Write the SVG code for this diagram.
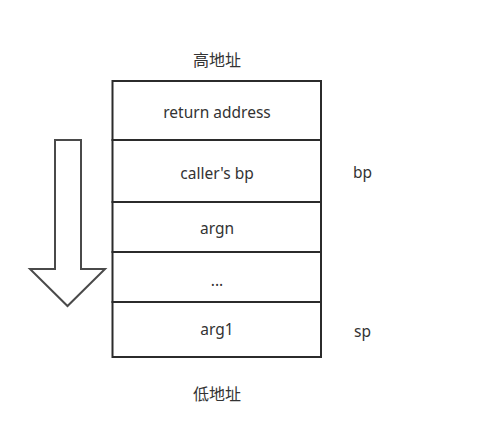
<svg xmlns="http://www.w3.org/2000/svg" width="495" height="448" viewBox="0 0 495 448">
  <style>
    .cell { fill: #ffffff; stroke: #2b2b2b; stroke-width: 2; }
    .lbl { font-family: "Noto Sans", "Noto Sans CJK SC", sans-serif; font-size: 15.5px; fill: #333333; text-anchor: middle; dominant-baseline: central; }
    .cjk { font-family: "Noto Sans CJK SC", sans-serif; font-size: 16px; }
    .side { text-anchor: start; }
    .arrow { fill: #ffffff; stroke: #4a4a4a; stroke-width: 2; stroke-linejoin: miter; }
  </style>
  <rect width="495" height="448" fill="#ffffff"/>

  <g id="label-high"><text class="lbl cjk" x="217" y="59">高地址</text></g>

  <g id="stack">
    <g id="cell-return"><rect class="cell" x="112.5" y="81" width="208.5" height="59"/><text class="lbl" x="217" y="112">return address</text></g>
    <g id="cell-bp"><rect class="cell" x="112.5" y="140" width="208.5" height="62"/><text class="lbl" x="217" y="173">caller's bp</text></g>
    <g id="cell-argn"><rect class="cell" x="112.5" y="202" width="208.5" height="50"/><text class="lbl" x="217" y="228">argn</text></g>
    <g id="cell-dots"><rect class="cell" x="112.5" y="252" width="208.5" height="50"/><text class="lbl" x="217" y="280">...</text></g>
    <g id="cell-arg1"><rect class="cell" x="112.5" y="302" width="208.5" height="55"/><text class="lbl" x="217" y="329">arg1</text></g>
  </g>

  <g id="label-bp"><text class="lbl side" x="353" y="172">bp</text></g>
  <g id="label-sp"><text class="lbl side" x="354" y="331">sp</text></g>

  <g id="label-low"><text class="lbl cjk" x="217" y="393">低地址</text></g>

  <g id="growth-arrow">
    <polygon class="arrow" points="55,140 81,140 81,269 105,269 67.5,306 30,269 55,269"/>
  </g>
</svg>
